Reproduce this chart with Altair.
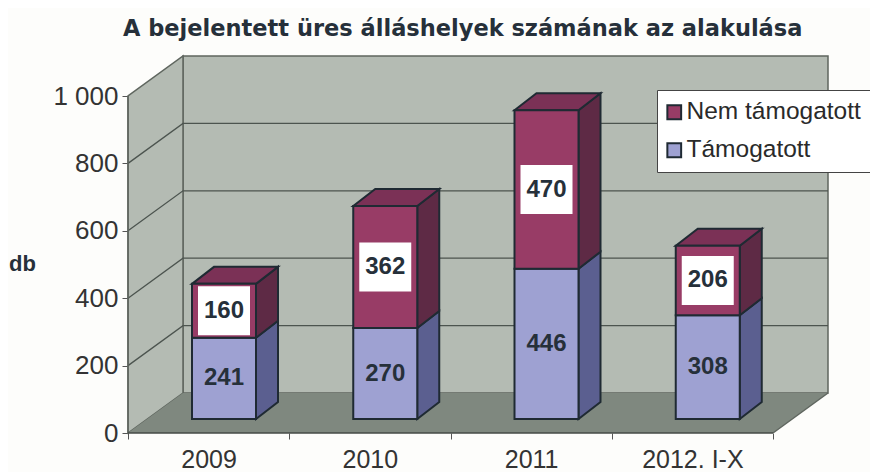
import altair as alt
import pandas as pd

years = ["2009", "2010", "2011", "2012. I-X"]
tamogatott = [241, 270, 446, 308]
nem_tamogatott = [160, 362, 470, 206]
tick_values = [0, 200, 400, 600, 800, 1000]
series_names = ["Nem támogatott", "Támogatott"]

FONT = "Liberation Sans"
PX_X = 161.25
PX_Y = 0.337
W, H = 742, 393
xs = alt.Scale(domain=[0, W / PX_X], nice=False, zero=False)
ys = alt.Scale(domain=[0, H / PX_Y], nice=False, zero=False)

# depth of chart box and bars in data units
wall_dx, wall_dv = 55 / PX_X, 40 / PX_Y
bar_dx, bar_dv = 22 / PX_X, 17 / PX_Y
bar_x0, bar_w = 64 / PX_X, 64 / PX_X
bar_base = 14 / PX_Y

WALL = "#b4bbb3"
FLOOR = "#7f887f"
LINE = "#1f2a33"
EDGE = "#5f665f"
RED, RED_S, RED_T = "#983c66", "#5e2a45", "#7b3156"
BLUE, BLUE_S = "#9ea1d2", "#5b5f90"

x_axis = alt.Axis(values=[i / 2 for i in range(9)], domain=False, grid=False, title=None,
                  labelExpr="datum.value % 1 == 0 ? '' : ['" + "','".join(years) + "'][floor(datum.value)]",
                  tickOpacity=alt.condition("datum.value % 1 == 0", alt.value(1), alt.value(0)),
                  tickSize=6, tickColor="#555555", labelFontSize=25, labelFont=FONT,
                  labelColor="#333333", labelPadding=8, labelFlush=False, labelOverlap=False)
y_axis = alt.Axis(values=tick_values, domain=False, grid=False, title="db", titleAngle=0,
                  titleX=-106, titleY=223, titleAlign="center", titleBaseline="middle",
                  titleFontSize=22, titleFont=FONT, titleFontWeight="bold", titleColor="#26303a",
                  labelExpr="replace(format(datum.value, ','), ',', ' ')",
                  tickSize=6, tickColor="#555555", labelFontSize=26, labelFont=FONT,
                  labelColor="#333333", labelPadding=4)


def X(f="x"):
    return alt.X(f + ":Q", scale=xs, axis=x_axis)


def Y(f="y"):
    return alt.Y(f + ":Q", scale=ys, axis=y_axis)


def poly(rows, **mark):
    d = pd.DataFrame(rows, columns=["g", "x", "y", "y2"])
    return alt.Chart(d).mark_area(**mark).encode(
        x=X(), y=Y(), y2=alt.Y2("y2:Q"), detail="g:N")


top_v = tick_values[-1]
n = len(years)
left_wall = poly([("w", 0, 0, top_v), ("w", wall_dx, wall_dv, top_v + wall_dv)],
                 fill=WALL, stroke=EDGE, strokeWidth=1.5)
back_wall = alt.Chart(pd.DataFrame([{"x": wall_dx, "x2": n + wall_dx, "y": wall_dv, "y2": top_v + wall_dv}])
                      ).mark_rect(fill=WALL, stroke=EDGE, strokeWidth=1.5).encode(
    x=X(), x2="x2:Q", y=Y(), y2="y2:Q")
floor = poly([("f", 0, 0, 0), ("f", wall_dx, wall_dv, 0), ("f", n, wall_dv, 0), ("f", n + wall_dx, wall_dv, wall_dv)],
             fill=FLOOR)
floor_edge = alt.Chart(pd.DataFrame({"g": ["r", "r"], "x": [n, n + wall_dx], "y": [0, wall_dv]})).mark_line(
    color=EDGE, strokeWidth=1.5).encode(x=X(), y=Y(), detail="g:N")

grid_rows = []
for v in tick_values[1:-1]:
    grid_rows += [(v, 0, v), (v, wall_dx, v + wall_dv), (v, n + wall_dx, v + wall_dv)]
grid = alt.Chart(pd.DataFrame(grid_rows, columns=["g", "x", "y"])).mark_line(
    color="#4c544f", strokeWidth=1.3).encode(x=X(), y=Y(), detail="g:N", order="x:Q")
front_axis = alt.Chart(pd.DataFrame([{"x": 0, "y": 0, "y2": top_v}])).mark_rule(
    color=EDGE, strokeWidth=1.5).encode(x=X(), y=Y(), y2="y2:Q")
base_rule = alt.Chart(pd.DataFrame([{"x": 0, "x2": n, "y": 0}])).mark_rule(
    color="#444a46", strokeWidth=1.5).encode(x=X(), x2="x2:Q", y=Y())

front, side_b, side_r, tops, boxes, labels = [], [], [], [], [], []
for i, (yr, a, b) in enumerate(zip(years, tamogatott, nem_tamogatott)):
    x0 = i + bar_x0
    x1 = x0 + bar_w
    m = bar_base + a
    t = m + b
    front.append({"x": x0, "x2": x1, "y": bar_base, "y2": m, "s": series_names[1]})
    front.append({"x": x0, "x2": x1, "y": m, "y2": t, "s": series_names[0]})
    side_b += [(i, x1, bar_base, m), (i, x1 + bar_dx, bar_base + bar_dv, m + bar_dv)]
    side_r += [(i, x1, m, t), (i, x1 + bar_dx, m + bar_dv, t + bar_dv)]
    tops += [(i, x0, t, t), (i, x0 + bar_dx, t + bar_dv, t), (i, x1, t + bar_dv, t),
             (i, x1 + bar_dx, t + bar_dv, t + bar_dv)]
    cx = (x0 + x1) / 2
    labels.append({"x": cx, "y": bar_base + a / 2, "t": str(a)})
    labels.append({"x": cx, "y": m + b / 2, "t": str(b)})
    boxes.append({"x": cx, "y": m + b / 2})

stroke = dict(stroke=LINE, strokeWidth=2)
front_layer = alt.Chart(pd.DataFrame(front)).mark_rect(**stroke).encode(
    x=X(), x2="x2:Q", y=Y(), y2="y2:Q",
    color=alt.Color("s:N", scale=alt.Scale(domain=series_names, range=[RED, BLUE]), title=None,
                    legend=alt.Legend(orient="none", legendX=529, legendY=50, symbolType="square",
                                      symbolSize=190, symbolStrokeColor=LINE, symbolStrokeWidth=2,
                                      symbolOffset=-5, labelFontSize=24.5, labelFont=FONT, labelColor="#2a2a2a",
                                      labelLimit=300, labelOffset=0, rowPadding=13, padding=10,
                                      fillColor="#ffffff", strokeColor="#444444", titlePadding=0)))
box_layer = alt.Chart(pd.DataFrame(boxes)).mark_rect(width=52, height=49, fill="#ffffff").encode(x=X(), y=Y())
text_layer = alt.Chart(pd.DataFrame(labels)).mark_text(
    font=FONT, fontSize=24, fontWeight="bold", color="#26303a").encode(x=X(), y=Y(), text="t:N")

chart = alt.layer(
    back_wall, left_wall, floor, floor_edge, grid, front_axis, base_rule,
    poly(side_b, fill=BLUE_S, **stroke), poly(side_r, fill=RED_S, **stroke),
    poly(tops, fill=RED_T, **stroke), front_layer, box_layer, text_layer,
).properties(
    width=W, height=H, background="#fdfdfb",
    autosize=alt.AutoSizeParams(type="none"),
    padding={"left": 120, "top": 32, "right": 0, "bottom": 39},
    title=alt.TitleParams("A bejelentett üres álláshelyek számának az alakulása", font="DejaVu Sans", fontSize=22.5,
                          fontWeight="bold", color="#26303a", anchor="start", frame="group", dx=-5, offset=0),
).configure_view(stroke=None)
chart.save("out.html", embed_options={"renderer": "svg", "actions": False})
